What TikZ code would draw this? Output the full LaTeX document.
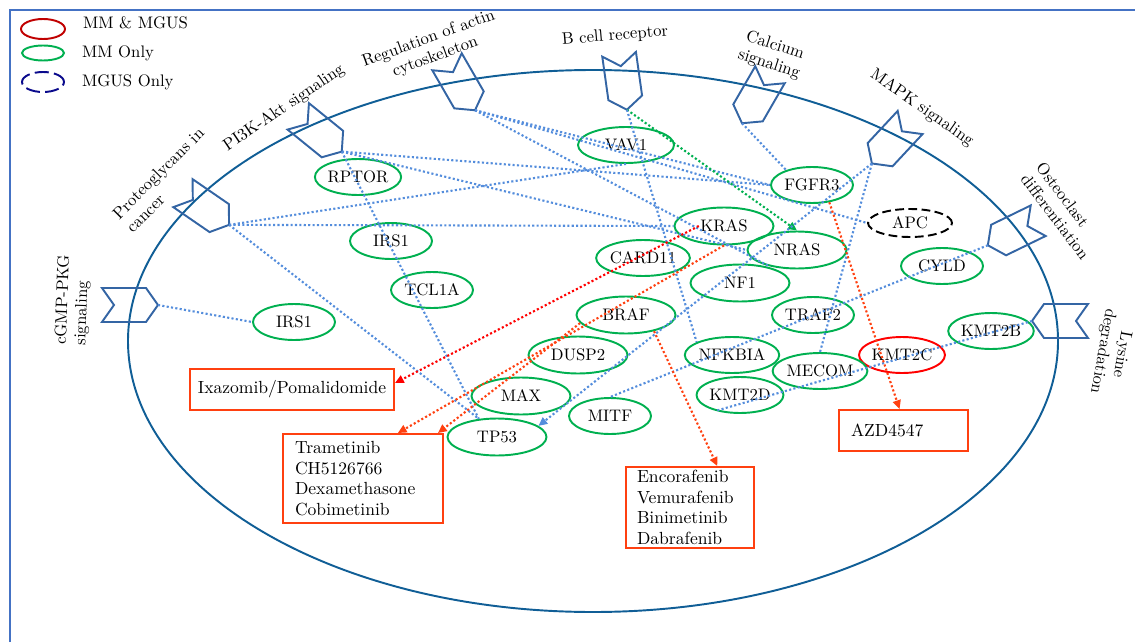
\documentclass[tikz,border=0pt]{standalone}
\usepackage{tikz}
\usetikzlibrary{
  calc,
  positioning,
  arrows.meta,
  shapes.geometric
}
\tikzset{>=Latex}
\definecolor{cellblue}{RGB}{16,94,150}
\definecolor{framblue}{RGB}{68,114,196}
\definecolor{pathblue}{RGB}{52,101,164}
\definecolor{linkblue}{RGB}{84,141,220}
\definecolor{mmgreen}{RGB}{0,176,80}
\definecolor{bothred}{RGB}{192,0,0}
\definecolor{mgusnavy}{RGB}{10,10,140}
\definecolor{drugred}{RGB}{255,64,16}
\definecolor{hitred}{RGB}{255,0,0}
\newcommand{\genefont}{\fontsize{9.5}{11}\selectfont}
\newcommand{\drugfont}{\fontsize{10}{11.7}\selectfont}
\tikzset{
  receptor/.pic={
    \draw[pathblue, line width=1.1pt] (28,0) -- (16,-17) -- (-28,-17) -- (-16,0) -- (-28,17) -- (16,17) -- cycle;
    \coordinate (-tip) at (28,0);
  }
}

\begin{document}
\begin{tikzpicture}[x=0.02cm, y=-0.02cm,
  gene/.style = {ellipse, draw=mmgreen, line width=1.1pt, inner sep=0pt, minimum width=1.64cm, minimum height=0.72cm, font=\genefont},
  wide/.style = {minimum width=1.98cm, minimum height=0.74cm},
  drug/.style = {rectangle, draw=drugred, line width=1.1pt, align=left, font=\drugfont, inner xsep=0.24cm, inner ysep=1pt},
  plabel/.style = {font=\genefont, inner sep=1pt},
  link/.style = {draw=linkblue, line width=1.2pt, dash pattern=on 1.2pt off 1.3pt},
  hit/.style = {draw=drugred, line width=1.2pt, dash pattern=on 1.2pt off 1.3pt, -{Triangle[length=5pt,width=4.5pt]}}]
				\useasboundingbox (0,0) rectangle (1135,642);

				% frame and cell
				\draw[framblue, line width=1.1pt] (10,642) -- (10,10) -- (1135,10);
				\draw[cellblue, line width=1.1pt] (593,341) ellipse [x radius=465, y radius=271];

				% legend
				\node[ellipse, draw=bothred, line width=1.1pt, inner sep=0pt, minimum width=0.88cm, minimum height=0.4cm] (lgboth) at (43,29) {};
				\node[ellipse, draw=mmgreen, line width=1.1pt, inner sep=0pt, minimum width=0.84cm, minimum height=0.3cm] (lgmm) at (43,53) {};
				\node[ellipse, draw=mgusnavy, line width=1.1pt, dash pattern=on 8pt off 3pt, inner sep=0pt, minimum width=0.84cm, minimum height=0.4cm] (lgmgus) at (43,82) {};
				\node[plabel, right=0.3cm of lgboth, yshift=0.12cm] (txboth) {MM \& MGUS};
				\node[plabel, right=0.3cm of lgmm] (txmm) {MM Only};
				\node[plabel, right=0.3cm of lgmgus] (txmgus) {MGUS Only};

				% pathways
				\pic (cgmp) at (130,305) {receptor};
				\pic[rotate=-34.5] (proteo) at (206,209) {receptor};
				\pic[rotate=-39] (pik) at (320,134) {receptor};
				\pic[rotate=-60] (actin) at (461,86) {receptor};
				\pic[rotate=-82] (bcr) at (623,82) {receptor};
				\pic[rotate=-120] (calc) at (756,99) {receptor};
				\pic[rotate=-133] (mapk) at (891,143) {receptor};
				\pic[rotate=-154] (osteo) at (1013,233) {receptor};
				\pic[rotate=-180] (lysine) at (1060,321) {receptor};

				\node[plabel, rotate=88, align=left] (lbcgmp) at (73,300) {cGMP-PKG\\signaling};
				\node[plabel, rotate=45, align=left] (lbproteo) at (165,180) {Proteoglycans in\\cancer};
				\node[plabel, rotate=34] (lbpik) at (284,108) {PI3K-Akt signaling};
				\node[plabel, rotate=20, align=center] (lbactin) at (432,48) {Regulation of actin\\cytoskeleton};
				\node[plabel, rotate=5] (lbbcr) at (615,36) {B cell receptor};
				\node[plabel, rotate=-18, align=center] (lbcalc) at (772,55) {Calcium\\signaling};
				\node[plabel, rotate=-35] (lbmapk) at (922,108) {MAPK signaling};
				\node[plabel, rotate=-53, align=left] (lbosteo) at (1063,211) {Osteoclast\\differentiation};
				\node[plabel, rotate=-100, align=center] (lblys) at (1112,353) {Lysine\\degradation};

				% genes
				\node[gene] (rptor) at (358,177) {RPTOR};
				\node[gene] (irsa) at (391,241) {IRS1};
				\node[gene] (tcl) at (432,290) {TCL1A};
				\node[gene] (irsb) at (294,322) {IRS1};
				\node[gene, minimum width=1.92cm] (vav) at (626,145) {VAV1};
				\node[gene, wide] (kras) at (724,226) {KRAS};
				\node[gene] (card) at (643,258) {CARD11};
				\node[gene, wide] (nras) at (797,250) {NRAS};
				\node[gene, wide] (nf) at (740,283) {NF1};
				\node[gene] (fgfr) at (812,185) {FGFR3};
				\node[gene, draw=black, dash pattern=on 5pt off 2.5pt, minimum width=1.68cm, minimum height=0.56cm] (apc) at (910,223) {APC};
				\node[gene] (cyld) at (942,266) {CYLD};
				\node[gene] (traf) at (813,315) {TRAF2};
				\node[gene] (kmtb) at (991,331) {KMT2B};
				\node[gene, draw=hitred] (kmtc) at (902,355) {KMT2C};
				\node[gene] (mecom) at (820,371) {MECOM};
				\node[gene] (kmtd) at (740,395) {KMT2D};
				\node[gene] (nfkbia) at (732,355) {NFKBIA};
				\node[gene, wide] (braf) at (626,315) {BRAF};
				\node[gene, wide] (dusp) at (578,355) {DUSP2};
				\node[gene, wide] (max) at (521,396) {MAX};
				\node[gene] (mitf) at (610,416) {MITF};
				\node[gene, wide] (tp) at (497,437) {TP53};

				% drugs
				\node[drug, align=center, inner xsep=0.1cm, minimum width=4.08cm, minimum height=0.82cm] (ixa) at (292,389.5) {Ixazomib/Pomalidomide};
				\node[drug, text width=2.72cm, minimum height=1.78cm] (tram) at (363,478.5) {Trametinib\\CH5126766\\Dexamethasone\\Cobimetinib};
				\node[drug, text width=2.12cm, inner xsep=0.22cm, minimum height=1.62cm] (enco) at (690,507.5) {Encorafenib\\Vemurafenib\\Binimetinib\\Dabrafenib};
				\node[drug, text width=2.1cm, minimum height=0.82cm] (azd) at (903.5,430.5) {AZD4547};

				% connections
				\draw[link] (cgmp-tip) -- (irsb.west);
				\draw[link] (proteo-tip) -- (vav.south);
				\draw[link] (proteo-tip) -- (kras.west);
				\draw[link] (proteo-tip) -- (tp.135);
				\draw[link] (pik-tip) -- (fgfr.west);
				\draw[link] (pik-tip) -- (nras.west);
				\draw[link] (pik-tip) -- (tp.135);
				\draw[link] (actin-tip) -- (fgfr.west);
				\draw[link] (actin-tip) -- (apc.west);
				\draw[link] (actin-tip) -- (nras.210);
				\draw[link, draw=mmgreen, -{Triangle[length=5pt,width=4.5pt]}] (bcr-tip) -- (nras.north);
				\draw[link] (bcr-tip) -- (nfkbia.160);
				\draw[link] (calc-tip) -- (fgfr.150);
				\draw[link, -{Triangle[length=5pt,width=4.5pt]}] (mapk-tip) -- (tp.15);
				\draw[link] (mapk-tip) -- (mecom.north);
				\draw[link] (osteo-tip) -- (mitf.north);
				\draw[link] (lysine-tip) -- (kmtd.213);

				\draw[hit, draw=hitred] ($(kras.center)!.5!(kras.west)$) -- ($(ixa.north east)!.35!(ixa.south east)$);
				\draw[hit] (kras.south) -- ($(tram.north west)!.715!(tram.north east)$);
				\draw[hit] (braf.190) -- ($(tram.north east)+(-6,0)$);
				\draw[hit] (braf.330) -- ($(enco.north west)!.71!(enco.north east)$);
				\draw[hit] (fgfr.315) -- ($(azd.north west)!.47!(azd.north east)$);
			\end{tikzpicture}
\end{document}
